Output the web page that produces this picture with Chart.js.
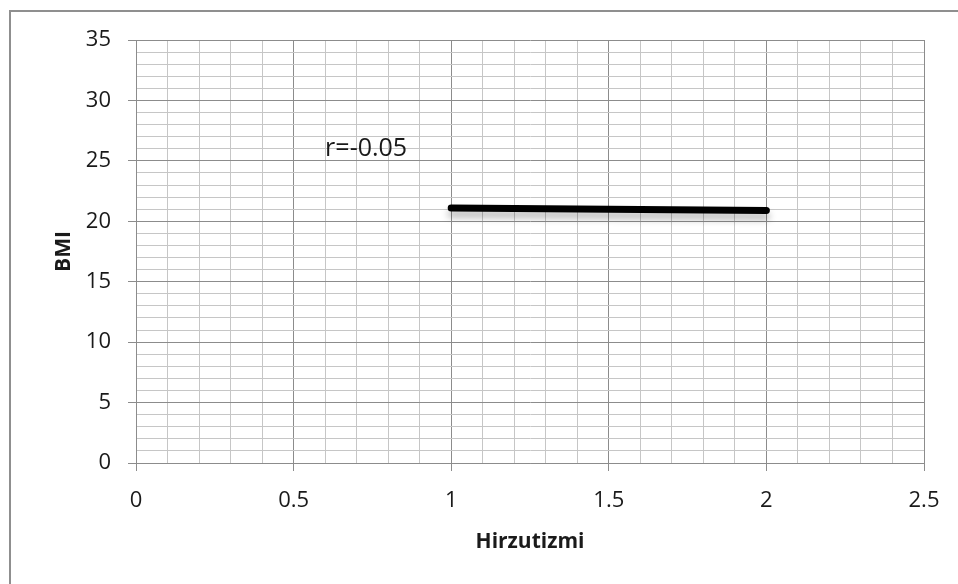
<!DOCTYPE html>
<html>
<head>
<meta charset="utf-8">
<script src="https://cdn.jsdelivr.net/npm/chart.js@4/dist/chart.umd.min.js"></script>
<style>
  html, body { margin: 0; padding: 0; background: #fff; }
  #wrap { position: relative; width: 958px; height: 584px; overflow: hidden; }
  #frame { position: absolute; left: 9px; top: 10px; width: 980px; height: 600px;
           border: 2px solid #8f8f8f; box-sizing: border-box; pointer-events: none; }
  canvas { display: block; }
</style>
</head>
<body>
<div id="wrap">
  <canvas id="c" width="958" height="584"></canvas>
  <div id="frame"></div>
</div>
<script>
// Trend line of BMI against hirsutism score
const hirzutizmi = [1, 2];
const bmi = [21.1, 20.9];

// Axis ranges and tick steps
const xRange = [0, 2.5];
const yRange = [0, 35];
const xMajorStep = 0.5;
const yMajorStep = 5;

// Correlation note
const noteText = 'r=-0.05';
const notePos = { x: 0.6, y: 26.0 };

const FONT = '"Open Sans", "Liberation Sans", sans-serif';
const MAJOR = '#8c8c8c';
const MINOR = '#c6c6c6';

const isMajor = (v, step) => Math.abs(v / step - Math.round(v / step)) < 1e-6;

const shadowPlugin = {
  id: 'lineShadow',
  beforeDatasetDraw(chart) {
    const ctx = chart.ctx;
    ctx.save();
    ctx.shadowColor = 'rgba(0,0,0,0.28)';
    ctx.shadowBlur = 7;
    ctx.shadowOffsetX = 0;
    ctx.shadowOffsetY = 6;
  },
  afterDatasetDraw(chart) {
    chart.ctx.restore();
  }
};

const notePlugin = {
  id: 'note',
  afterDatasetsDraw(chart) {
    const ctx = chart.ctx;
    const x = chart.scales.x.getPixelForValue(notePos.x);
    const y = chart.scales.y.getPixelForValue(notePos.y);
    ctx.save();
    ctx.font = '25px ' + FONT;
    ctx.fillStyle = '#1a1a1a';
    ctx.textAlign = 'left';
    ctx.textBaseline = 'middle';
    ctx.fillText(noteText, x, y);
    ctx.restore();
  }
};

new Chart(document.getElementById('c'), {
  type: 'scatter',
  data: {
    datasets: [{
      data: hirzutizmi.map((x, i) => ({ x, y: bmi[i] })),
      showLine: true,
      borderColor: '#000',
      borderWidth: 7,
      borderCapStyle: 'round',
      pointRadius: 0,
      pointHoverRadius: 0,
      tension: 0
    }]
  },
  options: {
    responsive: false,
    animation: false,
    events: [],
    layout: { padding: { left: 0, top: 40, right: 34, bottom: 0 } },
    plugins: { legend: { display: false }, tooltip: { enabled: false } },
    scales: {
      x: {
        type: 'linear',
        min: xRange[0],
        max: xRange[1],
        afterFit(scale) { scale.height = 121; },
        ticks: {
          stepSize: 0.1,
          autoSkip: false,
          maxRotation: 0,
          padding: 17,
          color: '#1a1a1a',
          font: { family: FONT, size: 22 },
          callback: v => isMajor(v, xMajorStep) ? String(Math.round(v * 10) / 10) : ''
        },
        grid: {
          color: c => (c.tick && isMajor(c.tick.value, xMajorStep)) ? MAJOR : MINOR,
          tickColor: c => (c.tick && isMajor(c.tick.value, xMajorStep)) ? MAJOR : 'rgba(0,0,0,0)',
          tickLength: 8,
          lineWidth: 1
        },
        border: { color: MAJOR, width: 1 },
        title: {
          display: true,
          text: 'Hirzutizmi',
          color: '#1a1a1a',
          font: { family: FONT, size: 21, weight: 'bold' },
          padding: { top: 4, bottom: 29 }
        }
      },
      y: {
        type: 'linear',
        min: yRange[0],
        max: yRange[1],
        afterFit(scale) { scale.width = 136; },
        ticks: {
          stepSize: 1,
          autoSkip: false,
          maxTicksLimit: 100,
          padding: 17,
          color: '#1a1a1a',
          font: { family: FONT, size: 22 },
          callback: v => isMajor(v, yMajorStep) ? String(v) : ''
        },
        grid: {
          color: c => (c.tick && isMajor(c.tick.value, yMajorStep)) ? MAJOR : MINOR,
          tickColor: c => (c.tick && isMajor(c.tick.value, yMajorStep)) ? MAJOR : 'rgba(0,0,0,0)',
          tickLength: 8,
          lineWidth: 1
        },
        border: { color: MAJOR, width: 1 },
        title: {
          display: true,
          text: 'BMI',
          color: '#1a1a1a',
          font: { family: FONT, size: 21, weight: 'bold' },
          padding: { top: 51, bottom: 4 }
        }
      }
    }
  },
  plugins: [shadowPlugin, notePlugin]
});
</script>
</body>
</html>
